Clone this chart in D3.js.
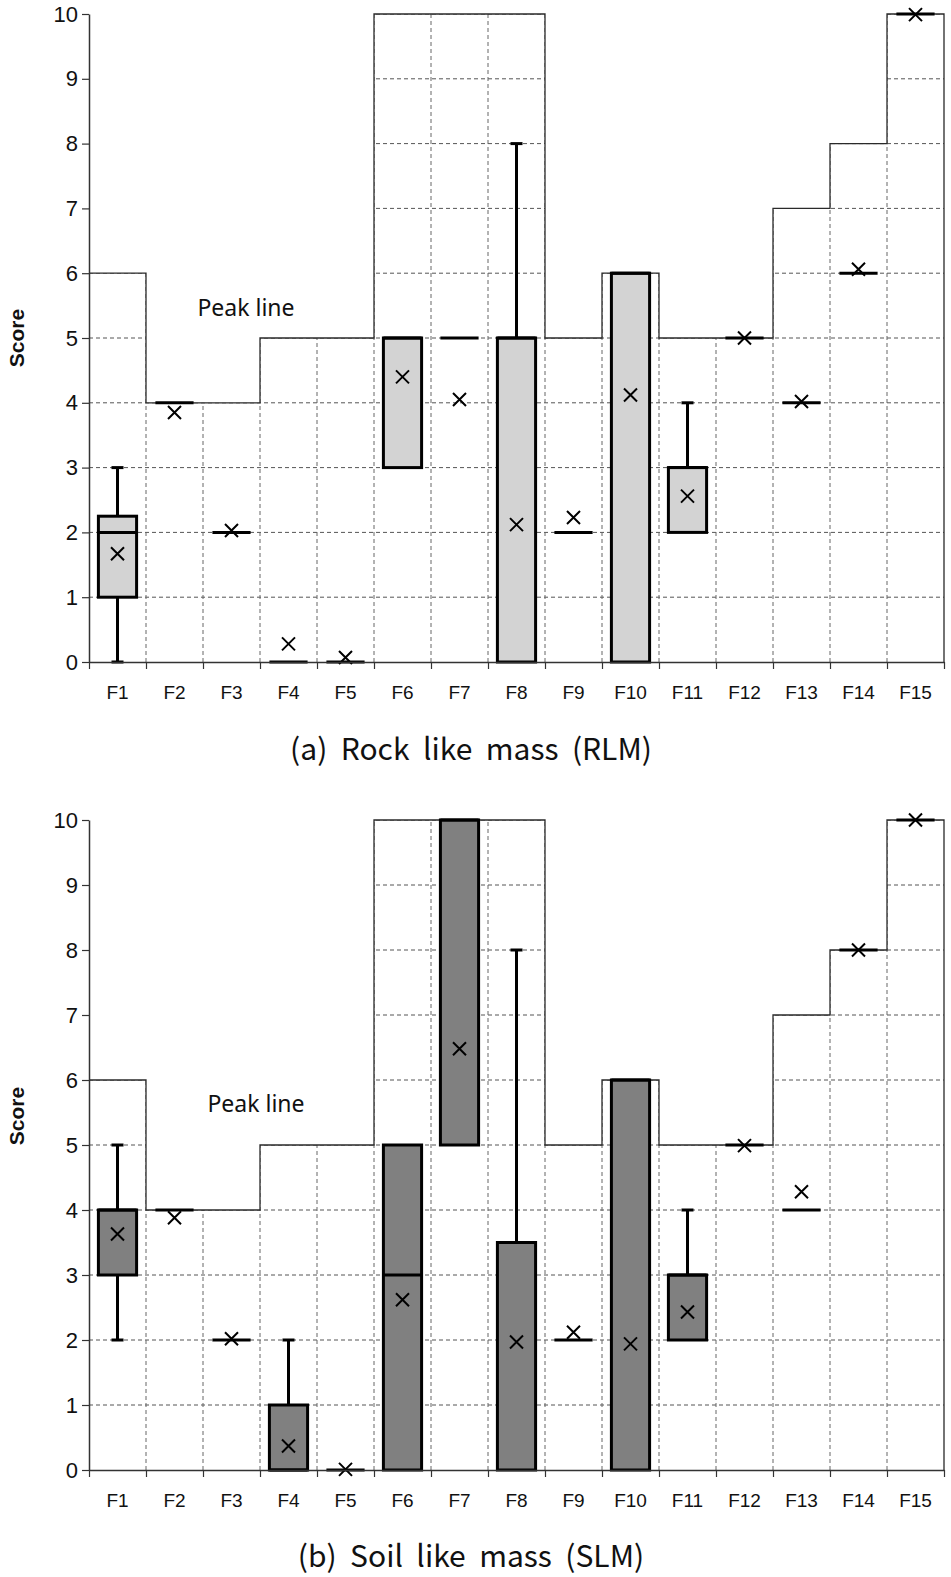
<!DOCTYPE html>
<html>
<head>
<meta charset="utf-8">
<script src="https://cdn.jsdelivr.net/npm/d3@7"></script>
<style>
  html, body { margin: 0; padding: 0; background: #fff; }
  svg { display: block; }
</style>
</head>
<body>
<svg id="chart" width="951" height="1577"></svg>
<script>
// ---------------- DATA ----------------
const categories = ["F1","F2","F3","F4","F5","F6","F7","F8","F9","F10","F11","F12","F13","F14","F15"];
const yTicks = [0,1,2,3,4,5,6,7,8,9,10];
const peakLine = [6,4,4,5,5,10,10,10,5,6,5,5,7,8,10];

// (a) Rock like mass (RLM)
const rlmMin    = [0,   4,   2,    0,    0,    3,   5,    0,    2,    0,    2,    5, 4,    6,    10];
const rlmQ1     = [1,   4,   2,    0,    0,    3,   5,    0,    2,    0,    2,    5, 4,    6,    10];
const rlmMedian = [2,   4,   2,    0,    0,    5,   5,    5,    2,    6,    3,    5, 4,    6,    10];
const rlmQ3     = [2.25,4,   2,    0,    0,    5,   5,    5,    2,    6,    3,    5, 4,    6,    10];
const rlmMax    = [3,   4,   2,    0,    0,    5,   5,    8,    2,    6,    4,    5, 4,    6,    10];
const rlmMean   = [1.67,3.85,2.03, 0.28, 0.07, 4.4, 4.05, 2.12, 2.23, 4.12, 2.56, 5, 4.02, 6.06, 9.99];

// (b) Soil like mass (SLM)
const slmMin    = [2,   4,   2,    0,    0,    0,    5,    0,    2,    0,    2,    5,    4,    8, 10];
const slmQ1     = [3,   4,   2,    0,    0,    0,    5,    0,    2,    0,    2,    5,    4,    8, 10];
const slmMedian = [4,   4,   2,    0,    0,    3,    10,   3.5,  2,    6,    3,    5,    4,    8, 10];
const slmQ3     = [4,   4,   2,    1,    0,    5,    10,   3.5,  2,    6,    3,    5,    4,    8, 10];
const slmMax    = [5,   4,   2,    2,    0,    5,    10,   8,    2,    6,    4,    5,    4,    8, 10];
const slmMean   = [3.63,3.88,2.02, 0.37, 0.01, 2.62, 6.48, 1.97, 2.12, 1.94, 2.43, 4.99, 4.28, 8, 10];

const panels = [
  { id: "a", top: 14, bottom: 662, fill: "#d3d3d3", caption: "(a)  Rock  like  mass  (RLM)", captionY: 752,
    peakLabelX: 246, peakLabelY: 310, scoreY: 338,
    min: rlmMin, q1: rlmQ1, median: rlmMedian, q3: rlmQ3, max: rlmMax, mean: rlmMean },
  { id: "b", top: 820, bottom: 1470, fill: "#808080", caption: "(b)  Soil  like  mass  (SLM)", captionY: 1559,
    peakLabelX: 256, peakLabelY: 1106, scoreY: 1116,
    min: slmMin, q1: slmQ1, median: slmMedian, q3: slmQ3, max: slmMax, mean: slmMean }
];

// ---------------- DRAW ----------------
const svg = d3.select("#chart");
const left = 89, right = 944;

panels.forEach((p, pi) => {
  const g = svg.append("g");
  const x = d3.scaleBand().domain(categories).range([left, right]).paddingInner(0).paddingOuter(0);
  const xb = d3.scaleLinear().domain([0, categories.length]).range([left, right]);
  const y = d3.scaleLinear().domain([0, 10]).range([p.bottom, p.top]);
  const bw = x.bandwidth();
  const boxW = bw * 0.67;

  // step data for peak line
  const stepPts = peakLine.map((v, i) => [i, v]);
  stepPts.push([categories.length, peakLine[peakLine.length - 1]]);

  // clip for grid: area under the peak line
  const clipId = "clip-" + p.id;
  const area = d3.area().curve(d3.curveStepAfter)
    .x(d => xb(d[0])).y0(y(0)).y1(d => y(d[1]));
  svg.append("defs").append("clipPath").attr("id", clipId)
    .append("path").attr("d", area(stepPts));

  const grid = g.append("g").attr("clip-path", `url(#${clipId})`);
  grid.selectAll("line.h").data(yTicks.filter(t => t > 0)).join("line")
    .attr("x1", left).attr("x2", right)
    .attr("y1", d => y(d)).attr("y2", d => y(d))
    .attr("stroke", "#555").attr("stroke-width", 1).attr("stroke-dasharray", "4,3");
  grid.selectAll("line.v").data(d3.range(1, categories.length)).join("line")
    .attr("x1", d => xb(d)).attr("x2", d => xb(d))
    .attr("y1", y(0)).attr("y2", y(10))
    .attr("stroke", "#666").attr("stroke-width", 1).attr("stroke-dasharray", "4,3");

  // peak line
  const line = d3.line().curve(d3.curveStepAfter).x(d => xb(d[0])).y(d => y(d[1]));
  const pts = stepPts.concat([[categories.length, 0]]);
  g.append("path").attr("d", line(pts))
    .attr("fill", "none").attr("stroke", "#2a2a2a").attr("stroke-width", 1.3);

  g.append("text").attr("x", p.peakLabelX).attr("y", p.peakLabelY)
    .attr("text-anchor", "middle").attr("dominant-baseline", "middle")
    .attr("font-family", "'Noto Sans', sans-serif").attr("font-size", 23).attr("fill", "#111")
    .text("Peak line");

  const idx = d3.range(categories.length);
  const cx = i => x(categories[i]) + bw / 2;

  // whiskers
  idx.forEach(i => {
    const segs = [];
    if (p.max[i] > p.q3[i]) segs.push([p.q3[i], p.max[i]]);
    if (p.min[i] < p.q1[i]) segs.push([p.min[i], p.q1[i]]);
    segs.forEach(s => {
      g.append("line").attr("x1", cx(i)).attr("x2", cx(i))
        .attr("y1", y(s[0])).attr("y2", y(s[1]))
        .attr("stroke", "#000").attr("stroke-width", 3);
    });
    [p.min[i], p.max[i]].forEach((v, k) => {
      if ((k === 0 && p.min[i] < p.q1[i]) || (k === 1 && p.max[i] > p.q3[i])) {
        g.append("line").attr("x1", cx(i) - 6).attr("x2", cx(i) + 6)
          .attr("y1", y(v)).attr("y2", y(v))
          .attr("stroke", "#000").attr("stroke-width", 3);
      }
    });
  });

  // boxes
  g.selectAll("rect.box").data(idx.filter(i => p.q3[i] > p.q1[i])).join("rect")
    .attr("x", i => cx(i) - boxW / 2).attr("width", boxW)
    .attr("y", i => y(p.q3[i])).attr("height", i => y(p.q1[i]) - y(p.q3[i]))
    .attr("fill", p.fill).attr("stroke", "#000").attr("stroke-width", 3);

  // medians
  g.selectAll("line.med").data(idx).join("line")
    .attr("x1", i => cx(i) - boxW / 2).attr("x2", i => cx(i) + boxW / 2)
    .attr("y1", i => y(p.median[i])).attr("y2", i => y(p.median[i]))
    .attr("stroke", "#000").attr("stroke-width", 3);

  // means (x markers)
  const m = 6.5;
  g.selectAll("path.mean").data(idx).join("path")
    .attr("d", i => {
      const px = cx(i), py = y(p.mean[i]);
      return `M${px - m},${py - m}L${px + m},${py + m}M${px - m},${py + m}L${px + m},${py - m}`;
    })
    .attr("stroke", "#000").attr("stroke-width", 2).attr("fill", "none");

  // y axis
  const yAxis = g.append("g").attr("transform", `translate(${left},0)`)
    .call(d3.axisLeft(y).tickValues(yTicks).tickSize(7).tickPadding(4).tickSizeOuter(0));
  yAxis.select(".domain").attr("stroke", "#333").attr("stroke-width", 1.5);
  yAxis.selectAll(".tick line").attr("stroke", "#333").attr("stroke-width", 1.2);
  yAxis.selectAll("text").attr("font-family", "'Liberation Sans', Arial, sans-serif")
    .attr("font-size", 22).attr("fill", "#111");

  // x axis: boundary ticks
  const xAxisT = g.append("g").attr("transform", `translate(0,${y(0)})`)
    .call(d3.axisBottom(xb).tickValues(d3.range(0, categories.length + 1)).tickSize(7).tickSizeOuter(0).tickFormat(""));
  xAxisT.select(".domain").attr("stroke", "#333").attr("stroke-width", 1.5);
  xAxisT.selectAll(".tick line").attr("stroke", "#333").attr("stroke-width", 1.2);

  // x axis: category labels
  const xAxisL = g.append("g").attr("transform", `translate(0,${y(0)})`)
    .call(d3.axisBottom(x).tickSize(0).tickPadding(24));
  xAxisL.select(".domain").remove();
  xAxisL.selectAll("text").attr("font-family", "'Liberation Sans', Arial, sans-serif")
    .attr("font-size", 19).attr("fill", "#111");

  // y label
  g.append("text")
    .attr("transform", `translate(18,${p.scoreY}) rotate(-90)`)
    .attr("text-anchor", "middle").attr("dominant-baseline", "middle")
    .attr("font-family", "'Liberation Sans', Arial, sans-serif").attr("font-weight", "bold")
    .attr("font-size", 21).attr("fill", "#111")
    .text("Score");

  // caption
  g.append("text").attr("x", 471).attr("y", p.captionY)
    .attr("text-anchor", "middle").attr("dominant-baseline", "middle")
    .attr("font-family", "'Noto Sans CJK KR', 'Noto Sans', sans-serif").attr("font-size", 30).attr("fill", "#111")
    .style("white-space", "pre")
    .text(p.caption);
});
</script>
</body>
</html>
